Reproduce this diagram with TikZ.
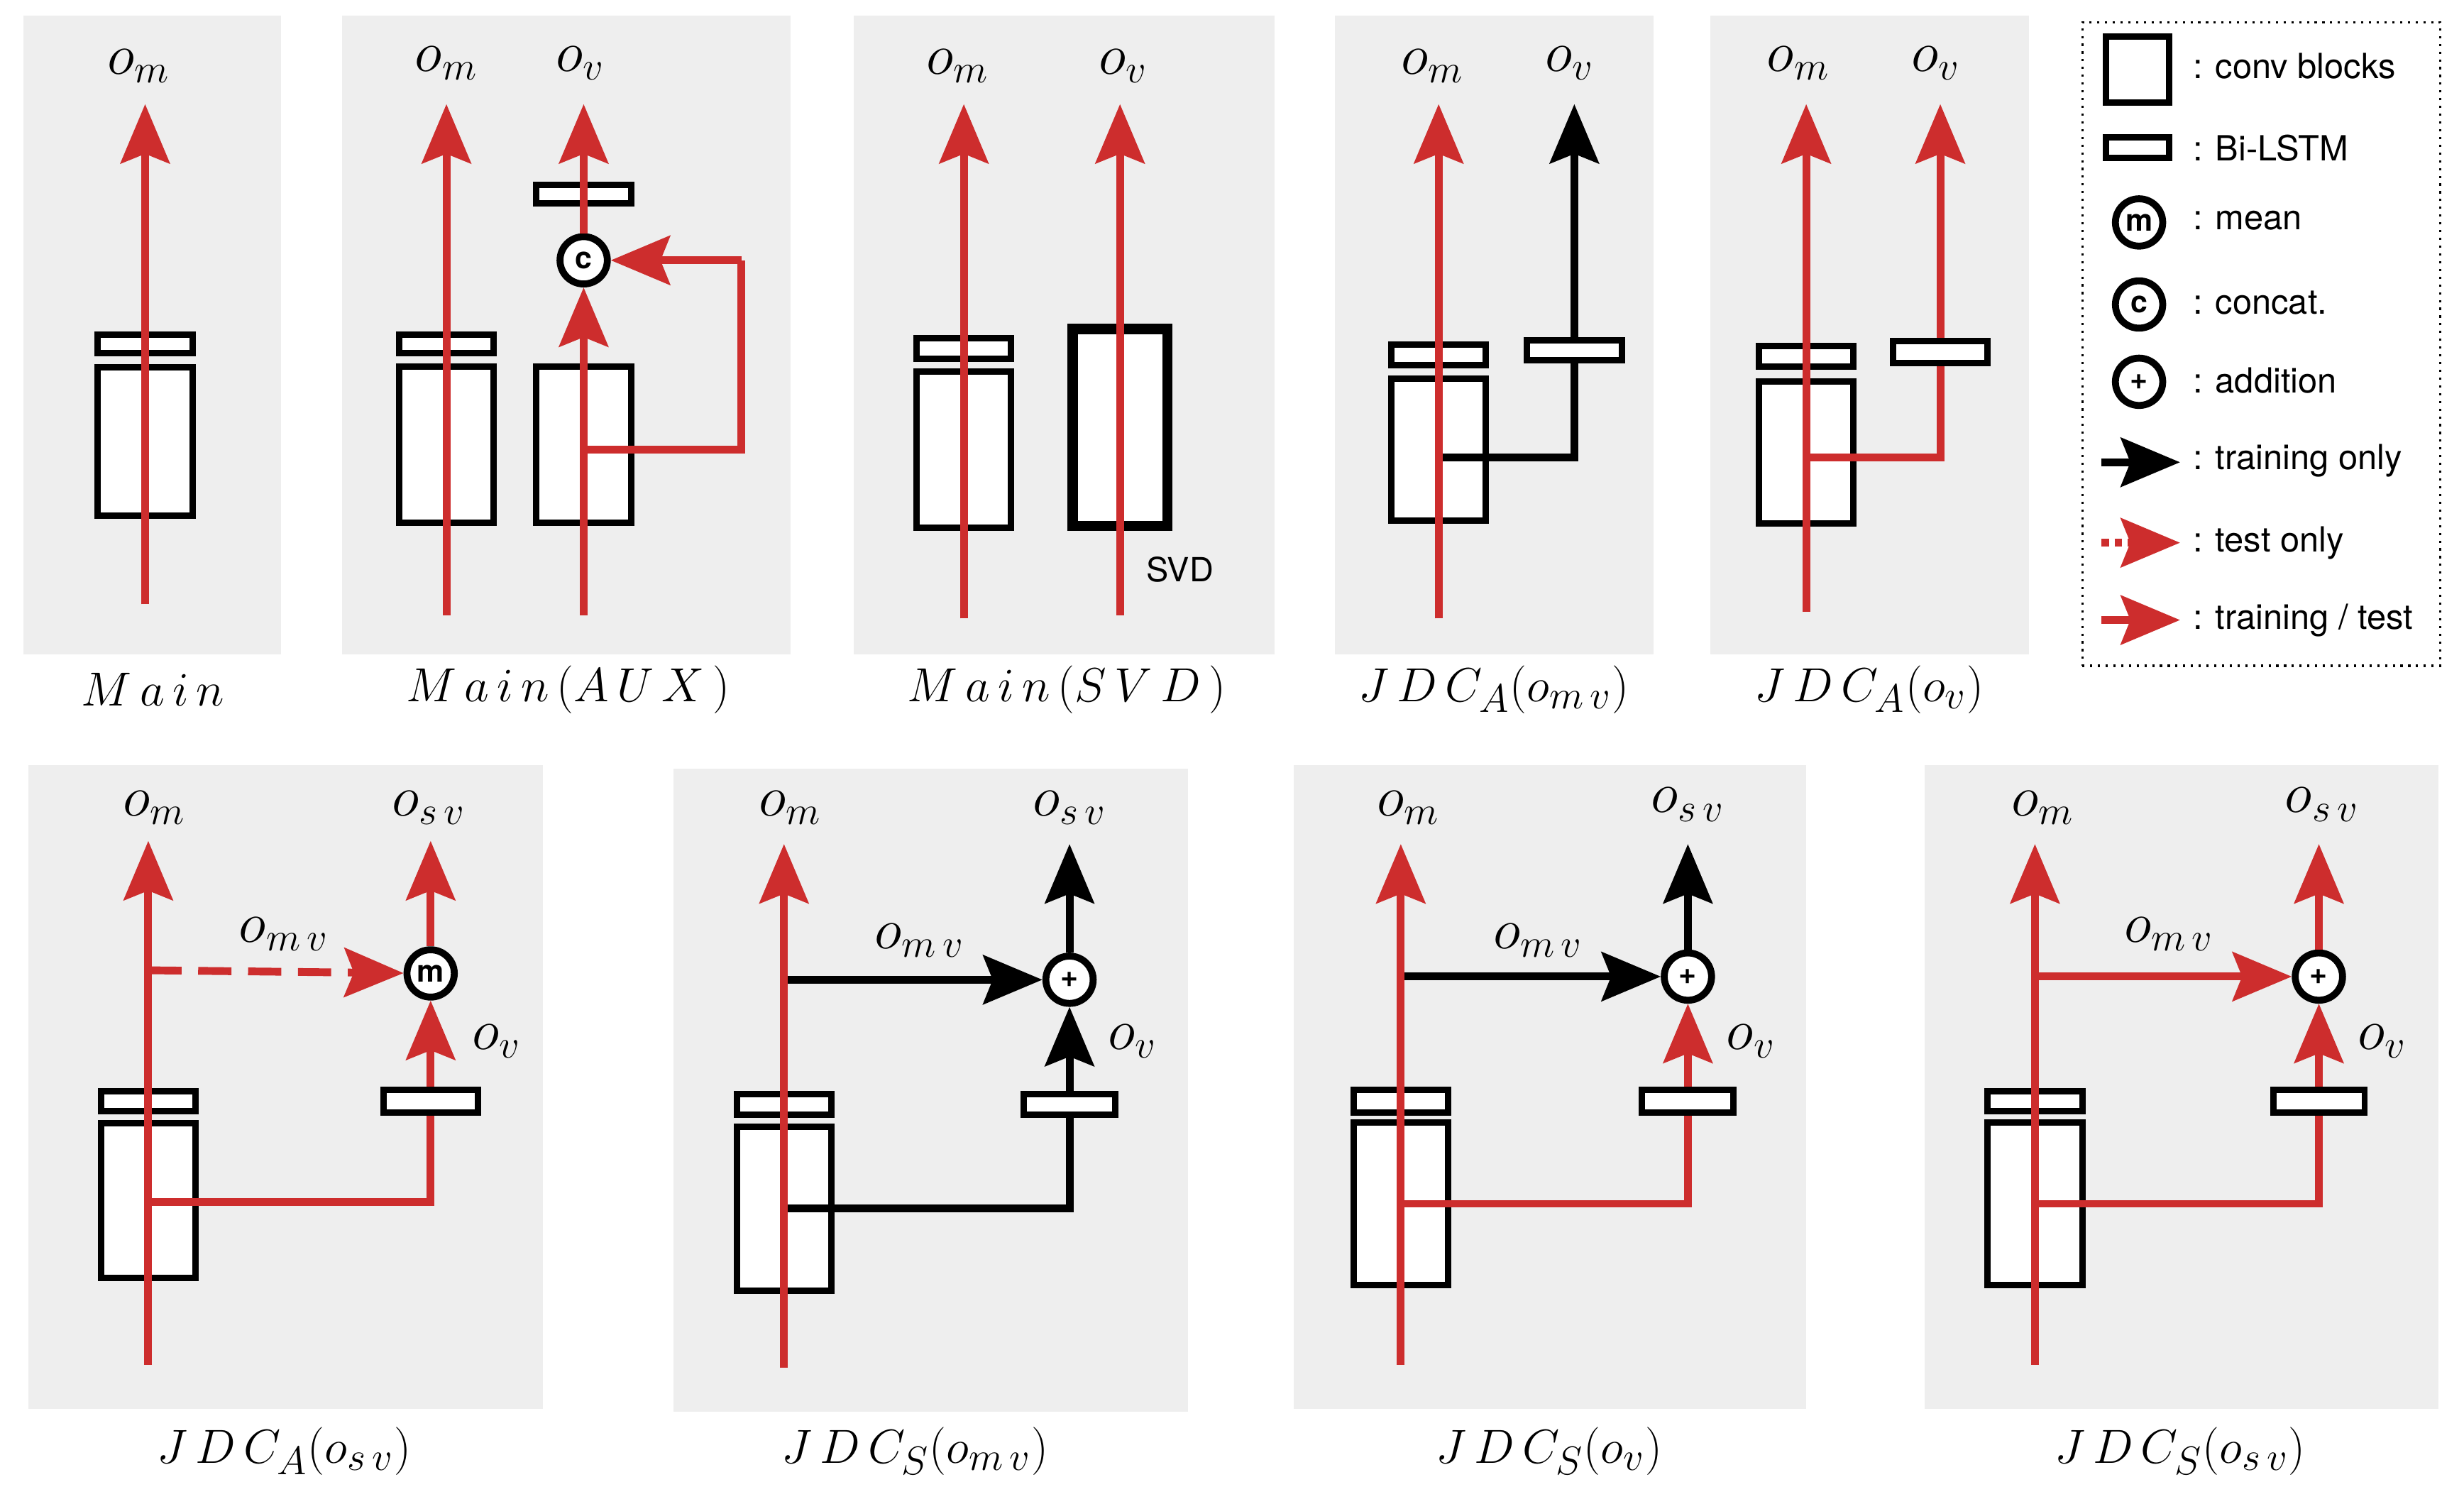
\documentclass[tikz,border=0pt]{standalone}
\usepackage{fontspec}
\setmainfont{TeX Gyre Heros}
\usetikzlibrary{arrows.meta}
\definecolor{rd}{RGB}{205,45,45}
\definecolor{bg}{RGB}{238,238,238}
\newcommand\rb[5]{\node[box,minimum width=#4*0.02cm,minimum height=#5*0.02cm] (#1) at (#2,#3) {};}
\begin{document}
\begin{tikzpicture}[x=0.02cm,y=-0.02cm,
 box/.style={draw,fill=white,line width=2.3pt,inner sep=0pt,rectangle},
 op/.style={draw,fill=white,circle,line width=2.5pt,minimum size=0.6cm,inner sep=0pt,font=\fontsize{11}{11}\selectfont\bfseries},
 ra/.style={draw=rd,line width=2.8pt,-{Stealth[length=0.75cm,width=0.62cm,inset=0.12cm]}},
 ba/.style={draw=black,line width=2.8pt,-{Stealth[length=0.75cm,width=0.62cm,inset=0.12cm]}},
 rl/.style={draw=rd,line width=2.8pt},
 bl/.style={draw=black,line width=2.8pt},
 lab/.style={font=\fontsize{20}{24}\selectfont},
 capt/.style={font=\fontsize{19}{23}\selectfont},
 leg/.style={font=\fontsize{12.5}{15}\selectfont,anchor=west}]
\useasboundingbox (0,0) rectangle (1562,953);
% panels
\fill[bg] (15,10) rectangle (178,415);
\fill[bg] (217,10) rectangle (501,415);
\fill[bg] (541,10) rectangle (808,415);
\fill[bg] (846,10) rectangle (1048,415);
\fill[bg] (1084,10) rectangle (1286,415);
\fill[bg] (18,485) rectangle (344,893);
\fill[bg] (427,487) rectangle (753,895);
\fill[bg] (820,485) rectangle (1145,893);
\fill[bg] (1220,485) rectangle (1546,893);
% ---- Panel 1
\rb{a1l}{92}{218}{60}{12}
\rb{a1c}{92}{280}{60}{94}
\coordinate (a1b) at (92,383); \coordinate (a1t) at (92,66);
\draw[ra] (a1b) -- (a1t);
\node[lab] (a1o) at (88,42) {$o_m$};
\node[capt] (a1n) at (97,437) {$M\,a\,i\,n$};
% ---- Panel 2
\rb{a2l}{283}{218}{60}{12}
\rb{a2c}{283}{282}{60}{99}
\coordinate (a2b) at (283,390); \coordinate (a2t) at (283,66);
\draw[ra] (a2b) -- (a2t);
\rb{a2c2}{370}{282}{60}{99}
\rb{a2l2}{370}{123}{60}{12}
\node[op] (a2x) at (370,165) {c};
\coordinate (a2b2) at (370,390); \coordinate (a2t2) at (370,66);
\coordinate (a2s) at (370,285); \coordinate (a2r) at (470,285); \coordinate (a2q) at (470,165);
\draw[ra] (a2b2) -- (a2x);
\draw[ra] (a2x) -- (a2t2);
\draw[rl] (a2s) -- (a2r) -- (a2q);
\draw[ra] (a2q) -- (a2x);
\node[lab] (a2o) at (283,40) {$o_m$};
\node[lab] (a2v) at (368,40) {$o_v$};
\node[capt] (a2n) at (360,437) {$M\,a\,i\,n\,(A\,U\,X\,)$};
% ---- Panel 3
\rb{a3l}{611}{221}{60}{13}
\rb{a3c}{611}{285}{60}{99}
\node[draw,fill=white,line width=3.6pt,minimum width=1.2cm,minimum height=2.5cm,inner sep=0pt] (a3s) at (710,271) {};
\coordinate (a3b) at (611,392); \coordinate (a3t) at (611,66);
\coordinate (a3b2) at (710,390); \coordinate (a3t2) at (710,66);
\draw[ra] (a3b) -- (a3t);
\draw[ra] (a3b2) -- (a3t2);
\node[font=\fontsize{12}{14}\selectfont] (a3svd) at (748,361) {SVD};
\node[lab] (a3o) at (607,42) {$o_m$};
\node[lab] (a3v) at (712,42) {$o_v$};
\node[capt] (a3n) at (676,437) {$M\,a\,i\,n\,(S\,V\,D\,)$};
% ---- Panel 4
\rb{a4l}{912}{225}{60}{13}
\rb{a4c}{912}{285}{60}{90}
\rb{a4l2}{998}{222}{60}{13}
\coordinate (a4b) at (912,392); \coordinate (a4t) at (912,66);
\coordinate (a4s) at (912,290); \coordinate (a4r) at (998,290); \coordinate (a4t2) at (998,66);
\draw[bl] (a4s) -- (a4r) -- (a4l2.south);
\draw[ba] (a4l2.north) -- (a4t2);
\draw[ra] (a4b) -- (a4t);
\node[lab] (a4o) at (908,42) {$o_m$};
\node[lab] (a4v) at (995,40) {$o_v$};
\node[capt] (a4n) at (947,437) {$J\,D\,C_A(o_{m\,v})$};
% ---- Panel 5
\rb{a5l}{1145}{226}{60}{13}
\rb{a5c}{1145}{287}{60}{90}
\rb{a5l2}{1230}{223}{60}{14}
\coordinate (a5b) at (1145,388); \coordinate (a5t) at (1145,66);
\coordinate (a5s) at (1145,290); \coordinate (a5r) at (1230,290); \coordinate (a5t2) at (1230,66);
\draw[rl] (a5s) -- (a5r) -- (a5l2.south);
\draw[ra] (a5l2.north) -- (a5t2);
\draw[ra] (a5b) -- (a5t);
\node[lab] (a5o) at (1140,40) {$o_m$};
\node[lab] (a5v) at (1227,40) {$o_v$};
\node[capt] (a5n) at (1185,437) {$J\,D\,C_A(o_v)$};
% ---- Legend
\node[draw,dotted,line width=0.8pt,minimum width=227*0.02cm,minimum height=408*0.02cm,inner sep=0pt] (lg) at (1433.5,218) {};
\rb{g1}{1355}{44}{40}{42}
\node[leg] (g1t) at (1384,42) {: conv blocks};
\rb{g2}{1355}{93.5}{40}{13}
\node[leg] (g2t) at (1384,94) {: Bi-LSTM};
\node[op] (g3) at (1356,141) {m};
\node[leg] (g3t) at (1384,140) {: mean};
\node[op] (g4) at (1356,193) {c};
\node[leg] (g4t) at (1384,192) {: concat.};
\node[op] (g5) at (1356,242) {+};
\node[leg] (g5t) at (1384,241) {: addition};
\coordinate (g6a) at (1332,293); \coordinate (g6b) at (1382,293);
\draw[ba] (g6a) -- (g6b);
\node[leg] (g6t) at (1384,292) {: training only};
\coordinate (g7a) at (1332,344); \coordinate (g7b) at (1382,344);
\draw[ra,dotted] (g7a) -- (g7b);
\node[leg] (g7t) at (1384,344) {: test only};
\coordinate (g8a) at (1332,393); \coordinate (g8b) at (1382,393);
\draw[ra] (g8a) -- (g8b);
\node[leg] (g8t) at (1384,393) {: training / test};
% ---- Panel 6
\rb{b1l}{94}{698}{60}{13}
\rb{b1c}{94}{761}{60}{98}
\rb{b1l2}{273}{698}{60}{14}
\node[op] (b1x) at (273,617) {m};
\coordinate (b1b) at (94,865); \coordinate (b1t) at (94,533);
\coordinate (b1s) at (94,762); \coordinate (b1r) at (273,762); \coordinate (b1t2) at (273,533);
\coordinate (b1d) at (94,615);
\draw[rl] (b1s) -- (b1r) -- (b1l2.south);
\draw[ra] (b1l2.north) -- (b1x);
\draw[ra] (b1x) -- (b1t2);
\draw[ra,dash pattern=on 12pt off 6pt] (b1d) -- (b1x);
\draw[ra] (b1b) -- (b1t);
\node[lab] (b1o) at (98,512) {$o_m$};
\node[lab] (b1v) at (272,512) {$o_{s\,v}$};
\node[lab] (b1mv) at (180,592) {$o_{m\,v}$};
\node[lab] (b1vv) at (315,660) {$o_v$};
\node[capt] (b1n) at (180,920) {$J\,D\,C_A(o_{s\,v})$};
% ---- Panel 7
\rb{b2l}{497}{700}{60}{13}
\rb{b2c}{497}{766}{60}{104}
\rb{b2l2}{678}{700}{58}{13}
\node[op] (b2x) at (678,621) {+};
\coordinate (b2b) at (497,867); \coordinate (b2t) at (497,535);
\coordinate (b2s) at (497,766); \coordinate (b2r) at (678,766); \coordinate (b2t2) at (678,535);
\coordinate (b2d) at (497,621);
\draw[bl] (b2s) -- (b2r) -- (b2l2.south);
\draw[ba] (b2l2.north) -- (b2x);
\draw[ba] (b2x) -- (b2t2);
\draw[ba] (b2d) -- (b2x);
\draw[ra] (b2b) -- (b2t);
\node[lab] (b2o) at (501,512) {$o_m$};
\node[lab] (b2v) at (678,512) {$o_{s\,v}$};
\node[lab] (b2mv) at (583,596) {$o_{m\,v}$};
\node[lab] (b2vv) at (718,660) {$o_v$};
\node[capt] (b2n) at (580,920) {$J\,D\,C_S(o_{m\,v})$};
% ---- Panel 8
\rb{b3l}{888}{698}{60}{14}
\rb{b3c}{888}{763}{60}{103}
\rb{b3l2}{1070}{698}{58}{14}
\node[op] (b3x) at (1070,619) {+};
\coordinate (b3b) at (888,865); \coordinate (b3t) at (888,535);
\coordinate (b3s) at (888,763); \coordinate (b3r) at (1070,763); \coordinate (b3t2) at (1070,535);
\coordinate (b3d) at (888,619);
\draw[rl] (b3s) -- (b3r) -- (b3l2.south);
\draw[ra] (b3l2.north) -- (b3x);
\draw[ba] (b3x) -- (b3t2);
\draw[ba] (b3d) -- (b3x);
\draw[ra] (b3b) -- (b3t);
\node[lab] (b3o) at (893,512) {$o_m$};
\node[lab] (b3v) at (1070,510) {$o_{s\,v}$};
\node[lab] (b3mv) at (975,596) {$o_{m\,v}$};
\node[lab] (b3vv) at (1110,660) {$o_v$};
\node[capt] (b3n) at (982,920) {$J\,D\,C_S(o_v)$};
% ---- Panel 9
\rb{b4l}{1290}{698}{60}{13}
\rb{b4c}{1290}{763}{60}{103}
\rb{b4l2}{1470}{698}{58}{14}
\node[op] (b4x) at (1470,619) {+};
\coordinate (b4b) at (1290,865); \coordinate (b4t) at (1290,535);
\coordinate (b4s) at (1290,763); \coordinate (b4r) at (1470,763); \coordinate (b4t2) at (1470,535);
\coordinate (b4d) at (1290,619);
\draw[rl] (b4s) -- (b4r) -- (b4l2.south);
\draw[ra] (b4l2.north) -- (b4x);
\draw[ra] (b4x) -- (b4t2);
\draw[ra] (b4d) -- (b4x);
\draw[ra] (b4b) -- (b4t);
\node[lab] (b4o) at (1295,512) {$o_m$};
\node[lab] (b4v) at (1472,510) {$o_{s\,v}$};
\node[lab] (b4mv) at (1375,592) {$o_{m\,v}$};
\node[lab] (b4vv) at (1510,660) {$o_v$};
\node[capt] (b4n) at (1382,920) {$J\,D\,C_S(o_{s\,v})$};
\end{tikzpicture}
\end{document}
